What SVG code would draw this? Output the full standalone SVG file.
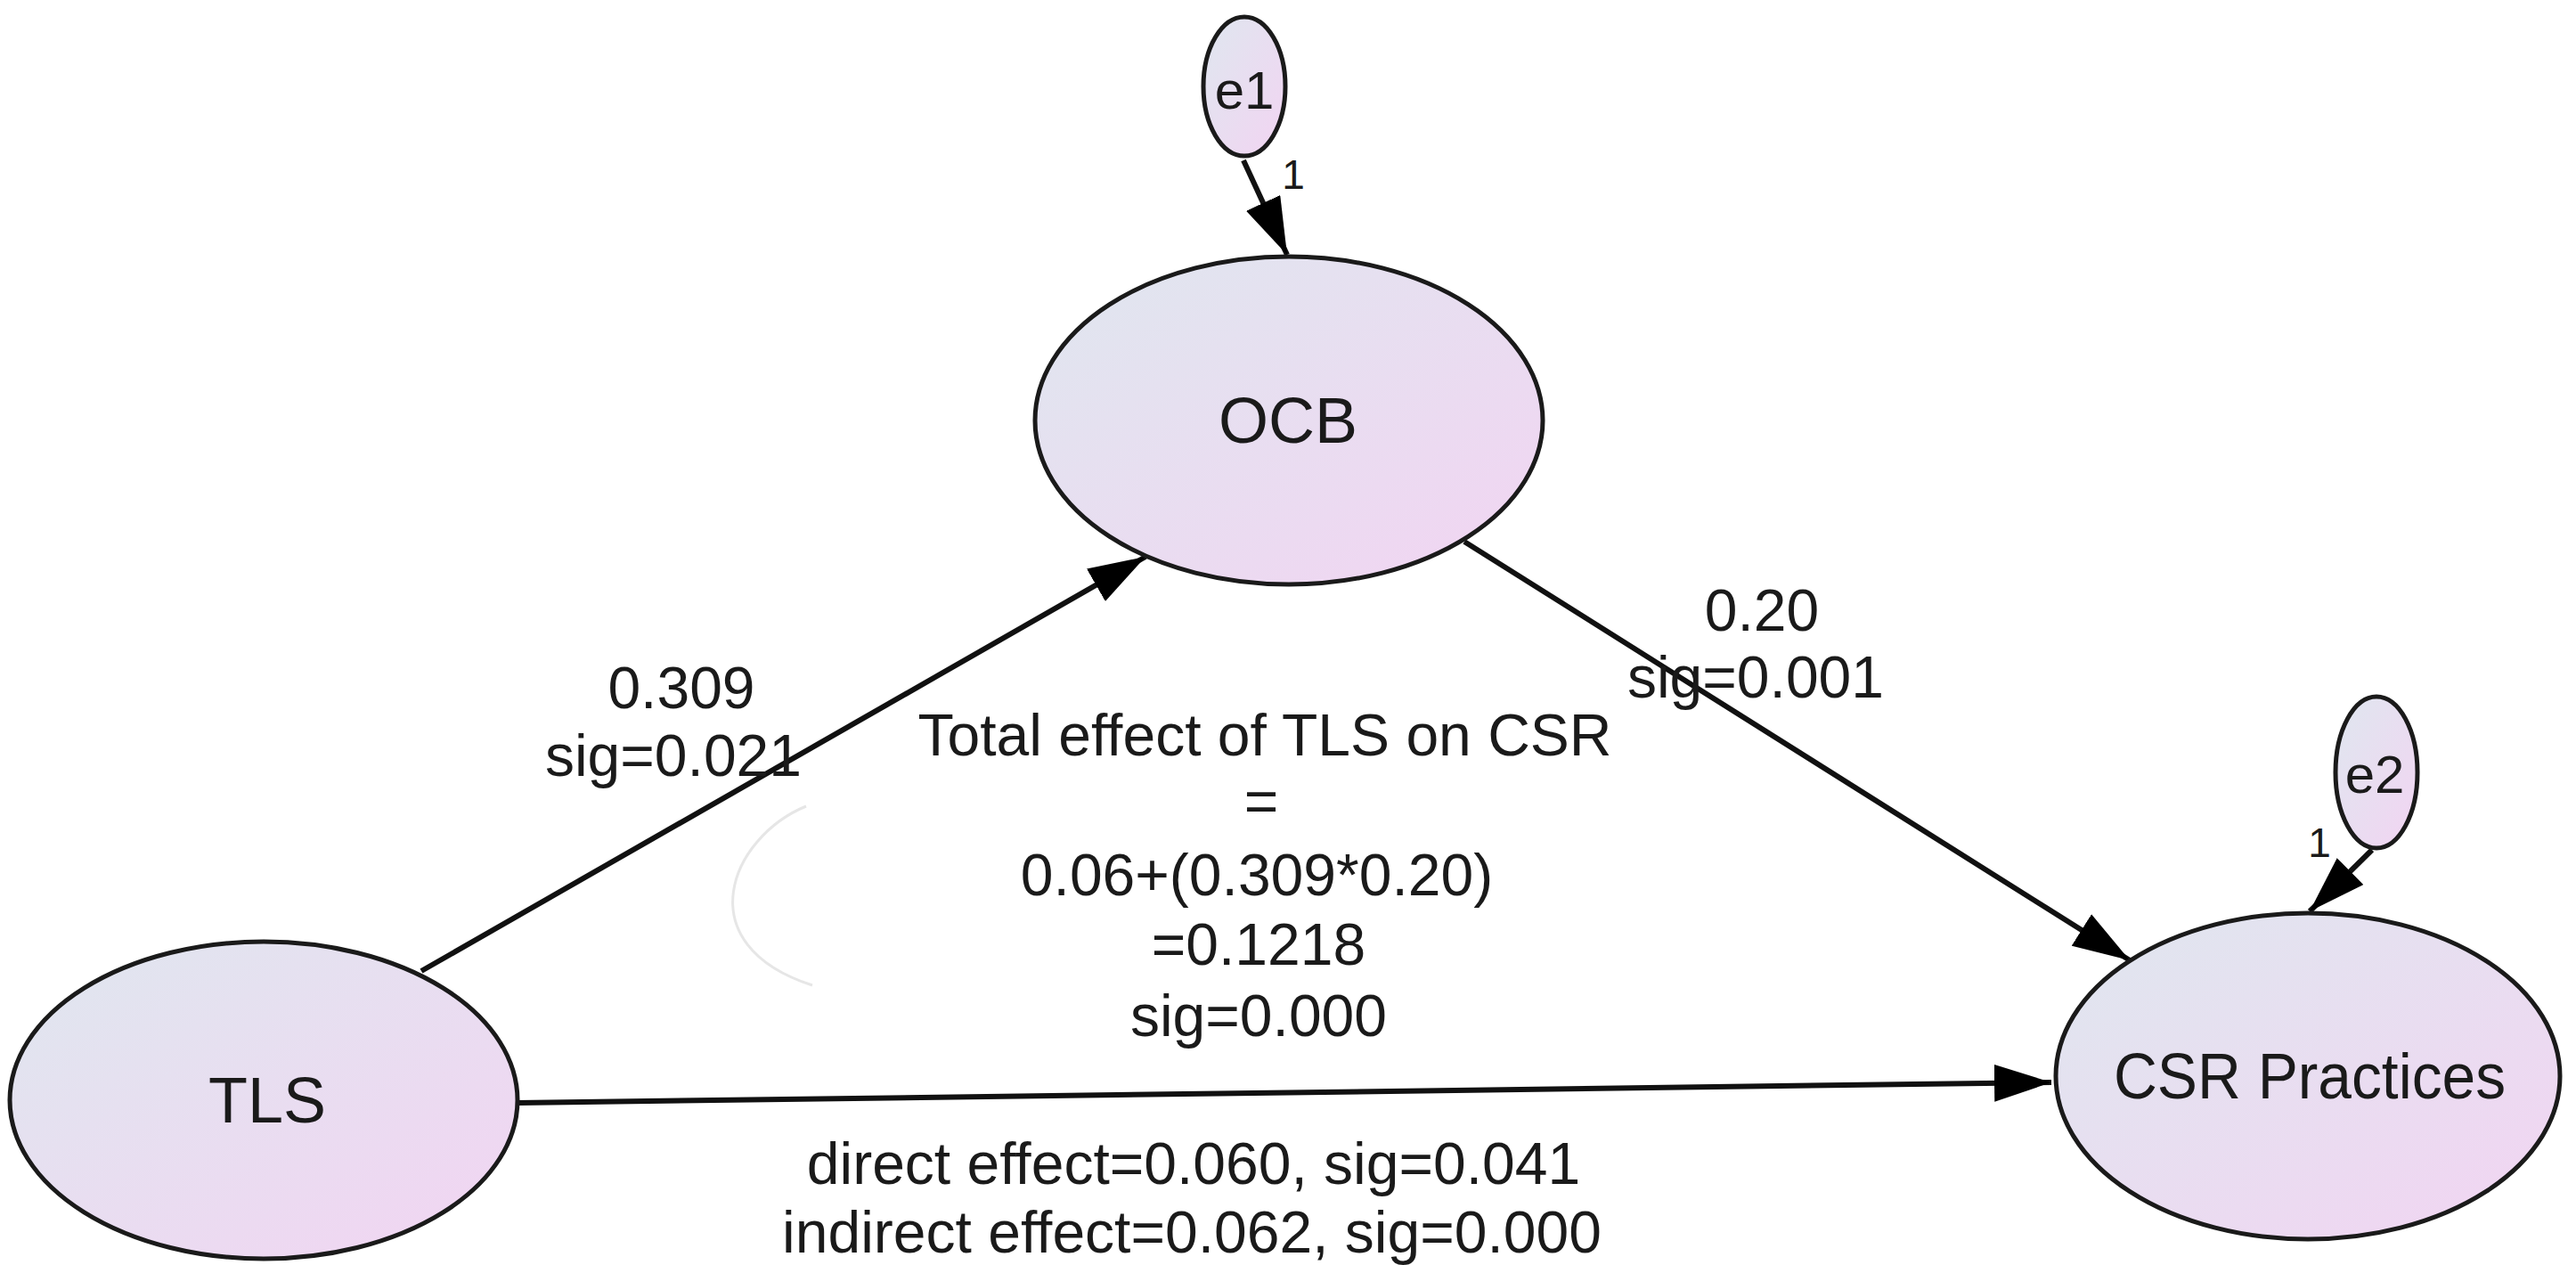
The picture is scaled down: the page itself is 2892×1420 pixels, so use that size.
<svg xmlns="http://www.w3.org/2000/svg" width="2892" height="1420" viewBox="0 0 2892 1420">
<style>
.n{fill:url(#g);stroke:#1a1a1a;stroke-width:5}
.t{font-family:"Liberation Sans",Arial,sans-serif;font-size:66px;fill:#1a1a1a;text-anchor:middle}
.l{font-size:72px}
.c{stroke:#111;stroke-width:6;fill:none;marker-end:url(#b)}
</style>
<defs>
<linearGradient id="g" x1="0" y1="0" x2="1" y2="1"><stop offset="0" stop-color="#dfe7ef"/><stop offset="1" stop-color="#f2d4f2"/></linearGradient>
<marker id="b" viewBox="0 0 64 42" refX="64" refY="21" markerWidth="64" markerHeight="42" orient="auto" markerUnits="userSpaceOnUse"><path d="M0,0L64,21L0,42z" fill="#000"/></marker>
</defs>
<rect width="2892" height="1420" fill="#fff"/>
<path d="M905,905 C820,940 770,1060 912,1106" stroke="#e6e6e6" stroke-width="3" fill="none"/>
<g id="connectors">
<line class="c" x1="473" y1="1090" x2="1286" y2="625"/>
<line class="c" x1="1644" y1="608" x2="2391" y2="1078"/>
<line class="c" x1="581" y1="1238" x2="2303" y2="1215"/>
<line class="c" x1="1396" y1="180" x2="1445" y2="286"/>
<line class="c" x1="2663" y1="954" x2="2593" y2="1023"/>
</g>
<g id="TLS"><ellipse class="n" cx="296" cy="1235" rx="285" ry="178"/><text class="t l" x="300" y="1260">TLS</text></g>
<g id="OCB"><ellipse class="n" cx="1447" cy="472" rx="285" ry="184"/><text class="t l" x="1446" y="497">OCB</text></g>
<g id="CSR"><ellipse class="n" cx="2591" cy="1208" rx="283" ry="183"/><text class="t l" x="2593" y="1233" textLength="440" lengthAdjust="spacingAndGlyphs">CSR Practices</text></g>
<g id="e1"><ellipse class="n" cx="1397" cy="97" rx="46" ry="78"/><text class="t" x="1397" y="122" style="font-size:60px">e1</text></g>
<g id="e2"><ellipse class="n" cx="2668" cy="867" rx="46" ry="85"/><text class="t" x="2666" y="890" style="font-size:60px">e2</text></g>
<g id="labels">
<text class="t" x="1452" y="212" style="font-size:46px">1</text>
<text class="t" x="2604" y="962" style="font-size:46px">1</text>
<text class="t" x="765" y="795">0.309</text>
<text class="t" x="756" y="871">sig=0.021</text>
<text class="t" x="1978" y="708">0.20</text>
<text class="t" x="1971" y="783">sig=0.001</text>
<text class="t" x="1420" y="848">Total effect of TLS on CSR</text>
<text class="t" x="1416" y="922">=</text>
<text class="t" x="1411" y="1005">0.06+(0.309*0.20)</text>
<text class="t" x="1413" y="1083">=0.1218</text>
<text class="t" x="1413" y="1163">sig=0.000</text>
<text class="t" x="1340" y="1329">direct effect=0.060, sig=0.041</text>
<text class="t" x="1338" y="1406">indirect effect=0.062, sig=0.000</text>
</g>
</svg>
